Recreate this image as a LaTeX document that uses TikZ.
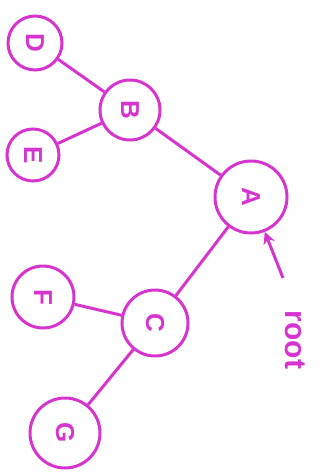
\documentclass[tikz,border=0pt]{standalone}
\usepackage{fontspec}
\setmainfont{Liberation Sans}
\usetikzlibrary{arrows.meta}
\definecolor{ink}{RGB}{214,52,206}
\begin{document}
\begin{tikzpicture}[x=1pt,y=-1pt,
  tnode/.style={circle,draw=ink,line width=3pt,text=ink,inner sep=0pt,font=\fontsize{26}{26}\selectfont\bfseries,rotate=-90},
  edge/.style={draw=ink,line width=3pt},
  lbl/.style={text=ink,font=\fontsize{30}{30}\selectfont\bfseries,rotate=-90}]
\useasboundingbox (0,0) rectangle (320,472);
\node[tnode,minimum size=72pt] (A) at (251,197) {A};
\node[tnode,minimum size=60pt] (B) at (130,110) {B};
\node[tnode,minimum size=54pt] (D) at (35,43) {D};
\node[tnode,minimum size=52pt] (E) at (33,155) {E};
\node[tnode,minimum size=66pt] (C) at (155,323) {C};
\node[tnode,minimum size=62pt] (F) at (43,297) {F};
\node[tnode,minimum size=70pt] (G) at (65,433) {G};
\draw[edge] (D) -- (B);
\draw[edge] (E) -- (B);
\draw[edge] (B) -- (A);
\draw[edge] (A) -- (C);
\draw[edge] (C) -- (F);
\draw[edge] (C) -- (G);
\node[lbl] (R) at (295,340) {root};
\coordinate (T) at (283,278);
\draw[edge,-{Stealth[length=12pt,width=12pt]}] (T) -- (A);
\end{tikzpicture}
\end{document}
